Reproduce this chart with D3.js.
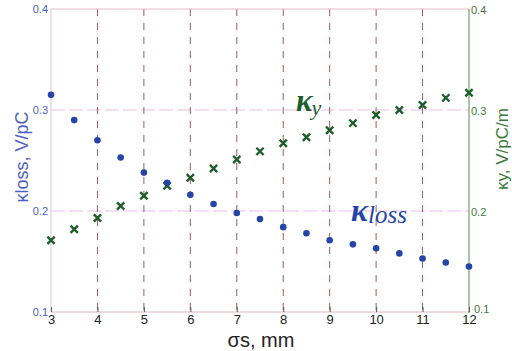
<!DOCTYPE html>
<html>
<head>
<meta charset="utf-8">
<script src="https://cdn.jsdelivr.net/npm/d3@7"></script>
<style>
  body { margin: 0; background: #fff; }
  svg { display: block; }
</style>
</head>
<body>
<svg id="chart" width="512" height="351"></svg>
<script>
const sigma = [3, 3.5, 4, 4.5, 5, 5.5, 6, 6.5, 7, 7.5, 8, 8.5, 9, 9.5, 10, 10.5, 11, 11.5, 12];
const kLoss = [0.315, 0.290, 0.270, 0.253, 0.238, 0.228, 0.216, 0.207, 0.198, 0.192, 0.184, 0.178, 0.171, 0.167, 0.163, 0.158, 0.153, 0.149, 0.145];
const kY = [0.172, 0.183, 0.194, 0.206, 0.216, 0.226, 0.234, 0.243, 0.252, 0.260, 0.268, 0.274, 0.281, 0.288, 0.296, 0.301, 0.306, 0.313, 0.318];
const xTicks = [3, 4, 5, 6, 7, 8, 9, 10, 11, 12];
const yTicks = [0.1, 0.2, 0.3, 0.4];

const BLUE = "#2444a8";
const BLUE_TEXT = "#4a5ec4";
const GREEN = "#1e5e2a";
const GREEN_TEXT = "#3c7a3c";

const svg = d3.select("#chart");
const plotLeft = 51, plotRight = 469, plotTop = 9, plotBottom = 312;

const x = d3.scaleLinear().domain([3, 12]).range([plotLeft, plotRight]);
const yL = d3.scaleLinear().domain([0.1, 0.4]).range([plotBottom, plotTop]);
const yR = d3.scaleLinear().domain([0.1, 0.4]).range([plotBottom + 1, plotTop + 1]);

// horizontal grid
svg.append("g")
  .selectAll("line")
  .data(yTicks.filter((d) => d > 0.1 && d < 0.4))
  .join("line")
  .attr("x1", plotLeft).attr("x2", plotRight)
  .attr("y1", (d) => yL(d)).attr("y2", (d) => yL(d))
  .attr("stroke", "#e6bfe6")
  .attr("stroke-width", 1)
  .attr("stroke-dasharray", "14,4");

// vertical grid
svg.append("g")
  .selectAll("line")
  .data(xTicks.filter((d) => d > 3 && d < 12))
  .join("line")
  .attr("x1", (d) => x(d)).attr("x2", (d) => x(d))
  .attr("y1", plotTop).attr("y2", plotBottom)
  .attr("stroke", "#9a5c60")
  .attr("stroke-width", 1)
  .attr("stroke-dasharray", "7,7");

// frame lines
svg.append("line").attr("x1", plotLeft).attr("x2", plotRight).attr("y1", plotTop).attr("y2", plotTop)
  .attr("stroke", "#e8b8c8");
svg.append("line").attr("x1", plotLeft).attr("x2", plotRight).attr("y1", plotBottom).attr("y2", plotBottom)
  .attr("stroke", "#d8b8c0");
svg.append("line").attr("x1", plotLeft).attr("x2", plotLeft).attr("y1", plotTop).attr("y2", plotBottom)
  .attr("stroke", "#e0c0e8");
svg.append("line").attr("x1", plotRight).attr("x2", plotRight).attr("y1", plotTop).attr("y2", plotBottom + 1)
  .attr("stroke", "#5a8a5a");

// bottom axis
const xAxis = svg.append("g")
  .attr("transform", `translate(0,${plotBottom})`)
  .call(d3.axisBottom(x).tickValues(xTicks).tickSizeInner(-5).tickSizeOuter(0).tickPadding(3));
xAxis.select(".domain").remove();
xAxis.selectAll(".tick line").attr("stroke", "#555");
xAxis.selectAll("text")
  .attr("fill", "#222")
  .attr("font-family", "Arial, Liberation Sans, sans-serif")
  .attr("font-size", 13);

// left axis
const leftAxis = svg.append("g")
  .attr("transform", `translate(${plotLeft},0)`)
  .call(d3.axisLeft(yL).tickValues(yTicks).tickSize(0).tickPadding(3).tickFormat(d3.format(".1f")));
leftAxis.select(".domain").remove();
leftAxis.selectAll("text")
  .attr("fill", BLUE_TEXT)
  .attr("font-family", "Arial, Liberation Sans, sans-serif")
  .attr("font-size", 11);

// right axis
const rightAxis = svg.append("g")
  .attr("transform", `translate(${plotRight},0)`)
  .call(d3.axisRight(yR).tickValues(yTicks).tickSize(0).tickPadding(2).tickFormat(d3.format(".1f")));
rightAxis.select(".domain").remove();
rightAxis.selectAll("text")
  .attr("fill", GREEN_TEXT)
  .attr("font-family", "Arial, Liberation Sans, sans-serif")
  .attr("font-size", 11);
// the bottom label sits beside the "12" tick; lift it a little so they do not collide
rightAxis.selectAll(".tick")
  .filter((d) => d === 0.1)
  .select("text")
  .attr("x", 5)
  .attr("dy", "-0.05em");

// kappa_y crosses
const cross = d3.symbol().type(d3.symbolX).size(36);
svg.append("g")
  .selectAll("path")
  .data(sigma.map((s, i) => [s, kY[i]]))
  .join("path")
  .attr("d", cross)
  .attr("transform", (d) => `translate(${x(d[0])},${yR(d[1])})`)
  .attr("fill", "none")
  .attr("stroke", GREEN)
  .attr("stroke-width", 2.4);

// kappa_loss dots
svg.append("g")
  .selectAll("circle")
  .data(sigma.map((s, i) => [s, kLoss[i]]))
  .join("circle")
  .attr("cx", (d) => x(d[0]))
  .attr("cy", (d) => yL(d[1]))
  .attr("r", 3.3)
  .attr("fill", BLUE);

// axis titles
svg.append("text")
  .attr("transform", "translate(28,157) rotate(-90)")
  .attr("text-anchor", "middle")
  .attr("fill", BLUE_TEXT)
  .attr("font-family", "Arial, Liberation Sans, sans-serif")
  .attr("font-size", 18)
  .text("κloss, V/pC");

svg.append("text")
  .attr("transform", "translate(508,149) rotate(-90)")
  .attr("text-anchor", "middle")
  .attr("fill", GREEN_TEXT)
  .attr("font-family", "Arial, Liberation Sans, sans-serif")
  .attr("font-size", 17)
  .text("κy, V/pC/m");

svg.append("text")
  .attr("x", 261)
  .attr("y", 347)
  .attr("text-anchor", "middle")
  .attr("fill", "#222")
  .attr("font-family", "Arial, Liberation Sans, sans-serif")
  .attr("font-size", 20)
  .text("σs, mm");

// series labels
const kyLabel = svg.append("text")
  .attr("x", 296)
  .attr("y", 111)
  .attr("fill", GREEN)
  .attr("font-family", "Liberation Serif, Times New Roman, serif")
  .attr("font-style", "italic")
  .attr("font-weight", "bold")
  .attr("font-size", 31);
kyLabel.append("tspan").text("κ");
kyLabel.append("tspan").attr("dy", 4).attr("dx", -1).attr("font-size", 22).attr("font-weight", "normal").text("y");

const klLabel = svg.append("text")
  .attr("x", 351)
  .attr("y", 221)
  .attr("fill", BLUE)
  .attr("font-family", "Liberation Serif, Times New Roman, serif")
  .attr("font-style", "italic")
  .attr("font-size", 32);
klLabel.append("tspan").attr("font-weight", "bold").text("κ");
klLabel.append("tspan").attr("dy", 2).attr("font-size", 25).text("loss");
</script>
</body>
</html>
